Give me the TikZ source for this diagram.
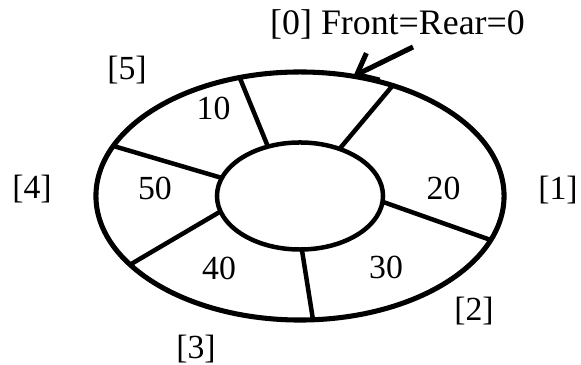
\documentclass[tikz,border=0pt]{standalone}
\usepackage{fontspec}
\setmainfont{Liberation Serif}
\usepackage{tikz}
\usetikzlibrary{arrows.meta, shapes.geometric, positioning, calc}

\begin{document}
\begin{tikzpicture}[
    x=0.025cm, y=-0.025cm,
    ring/.style={ellipse, draw, inner sep=0pt, outer sep=0pt},
    divider/.style={line width=3.2pt},
    lbl/.style={anchor=base, inner sep=0pt, font=\fontsize{24}{28}\selectfont},
    arrow/.style={-{Straight Barb[length=4.5mm, width=7.5mm]}, line width=3.6pt}
]
\useasboundingbox (0,0) rectangle (581,365);

% the ring
\node[ring, line width=3.6pt, minimum width=10.2cm, minimum height=6.2cm] (outer) at (300,196) {};
\node[ring, line width=3.2pt, minimum width=4.15cm, minimum height=2.675cm] (inner) at (300,196) {};

% cell borders
\draw[divider] (inner.123) -- (outer.117);
\draw[divider] (inner.50) -- (outer.50);
\draw[divider] (inner.-4) -- (outer.-13);
\draw[divider] (inner.-88) -- (outer.-84);
\draw[divider] (inner.191) -- (outer.202);
\draw[divider] (inner.167) -- (outer.165);

% values
\node[lbl] (v10) at (213.5,120) {10};
\node[lbl] (v20) at (443.5,200) {20};
\node[lbl] (v30) at (386,279) {30};
\node[lbl] (v40) at (219,280) {40};
\node[lbl] (v50) at (155,200) {50};

% indices
\node[lbl, font=\fontsize{25.5}{30}\selectfont] (front) at (397.5,35) {[0] Front=Rear=0};
\node[lbl] (idx1) at (558,200) {[1]};
\node[lbl] (idx2) at (474,321) {[2]};
\node[lbl] (idx3) at (196,359) {[3]};
\node[lbl] (idx4) at (32,199) {[4]};
\node[lbl] (idx5) at (127,80) {[5]};

\coordinate (tail) at (413,47);
\draw[arrow] (tail) -- (outer.66);

\end{tikzpicture}
\end{document}
